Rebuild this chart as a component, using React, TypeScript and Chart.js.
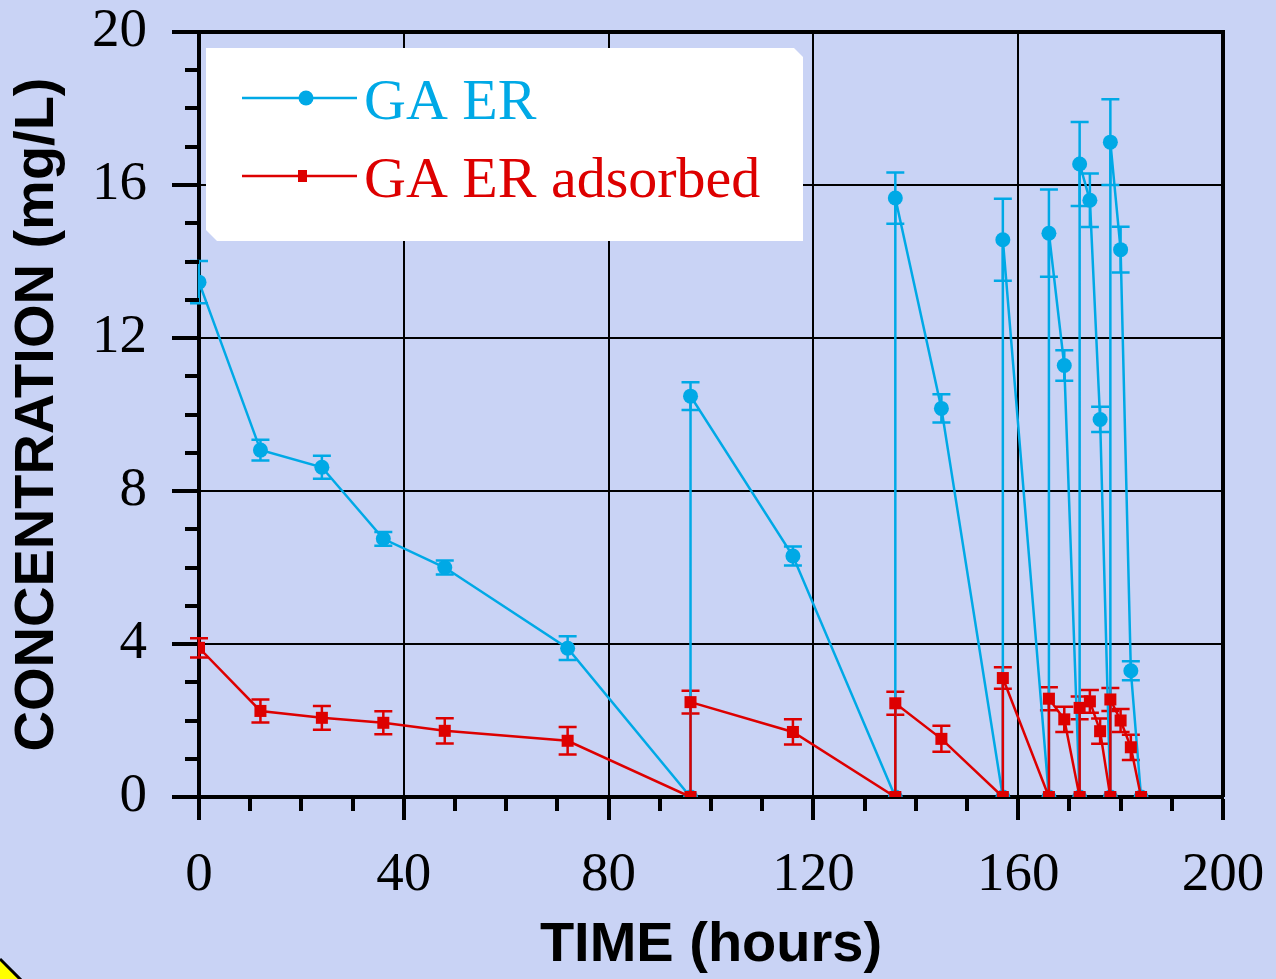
import React, { useEffect, useRef } from "react";
import { Chart, registerables } from "chart.js";

Chart.register(...registerables);

// ---------- data ----------
const seriesNames = ["GA ER", "GA ER adsorbed"];
const timeHours = [0, 12, 24, 36, 48, 72, 96, 96, 116, 136, 136, 145, 157, 157, 166, 166, 169, 172, 172, 174, 176, 178, 178, 180, 182, 184];
const gaErConc = [13.46, 9.07, 8.62, 6.75, 6.0, 3.89, 0, 10.48, 6.3, 0, 15.66, 10.16, 0, 14.57, 0, 14.74, 11.28, 0, 16.55, 15.6, 9.87, 0, 17.12, 14.31, 3.3, 0];
const gaErErr = [0.55, 0.27, 0.3, 0.18, 0.18, 0.31, 0, 0.36, 0.25, 0, 0.67, 0.37, 0, 1.07, 0, 1.14, 0.4, 0, 1.1, 0.7, 0.33, 0, 1.12, 0.6, 0.25, 0];
const adsConc = [3.9, 2.25, 2.07, 1.94, 1.73, 1.47, 0, 2.48, 1.7, 0, 2.45, 1.52, 0, 3.11, 0, 2.57, 2.03, 0, 2.33, 2.5, 1.72, 0, 2.55, 2.0, 1.3, 0];
const adsErr = [0.25, 0.3, 0.31, 0.3, 0.33, 0.36, 0, 0.3, 0.33, 0, 0.3, 0.34, 0, 0.28, 0, 0.3, 0.33, 0, 0.3, 0.3, 0.33, 0, 0.3, 0.3, 0.33, 0];
const xRange = [0, 200];
const yRange = [0, 20];
const xMajorStep = 40;
const yMajorStep = 4;
const xMinorStep = 10;
const yMinorStep = 1;
const xTitle = "TIME (hours)";
const yTitle = "CONCENTRATION (mg/L)";

// ---------- styles ----------
const BLUE = "#00a9e6";
const RED = "#dd0000";
const BG = "#c9d3f5";
const SERIF = "'Liberation Serif', 'Times New Roman', serif";
const SANS = "'Liberation Sans', Arial, sans-serif";

const errorBarPlugin = {
  id: "errorBars",
  beforeDatasetsDraw(chart: any) {
    const { ctx } = chart;
    const x = chart.scales.x;
    const y = chart.scales.y;
    const sets = [...chart.data.datasets].sort((a: any, b: any) => b.order - a.order);
    ctx.save();
    sets.forEach((d: any) => {
      ctx.strokeStyle = d.borderColor;
      ctx.lineWidth = 2.5;
      d.data.forEach((p: any, k: number) => {
        const e = d.errors[k];
        if (!e) return;
        const px = x.getPixelForValue(p.x);
        const pt = y.getPixelForValue(p.y + e);
        const pb = y.getPixelForValue(p.y - e);
        ctx.beginPath();
        ctx.moveTo(px, pt);
        ctx.lineTo(px, pb);
        ctx.moveTo(px - 9, pt);
        ctx.lineTo(px + 9, pt);
        ctx.moveTo(px - 9, pb);
        ctx.lineTo(px + 9, pb);
        ctx.stroke();
      });
    });
    ctx.restore();
  },
};

const framePlugin = {
  id: "frame",
  afterDraw(chart: any) {
    const { ctx, chartArea } = chart;
    const { left, right, top, bottom } = chartArea;
    const x = chart.scales.x;
    const y = chart.scales.y;
    ctx.save();
    ctx.strokeStyle = "#000";
    ctx.lineWidth = 4;
    ctx.lineCap = "butt";
    ctx.beginPath();
    for (let v = xRange[0]; v <= xRange[1]; v += xMinorStep) {
      if (v % xMajorStep === 0) continue;
      const px = Math.round(x.getPixelForValue(v));
      ctx.moveTo(px, bottom);
      ctx.lineTo(px, bottom + 14);
    }
    for (let v = yRange[0]; v <= yRange[1]; v += yMinorStep) {
      if (v % yMajorStep === 0) continue;
      const py = Math.round(y.getPixelForValue(v));
      ctx.moveTo(left - 14, py);
      ctx.lineTo(left, py);
    }
    // top and right frame
    ctx.moveTo(left - 2, top);
    ctx.lineTo(right + 2, top);
    ctx.moveTo(right, top);
    ctx.lineTo(right, bottom);
    ctx.stroke();

    // legend box
    ctx.fillStyle = "#ffffff";
    ctx.beginPath();
    ctx.moveTo(206, 48);
    ctx.lineTo(794, 48);
    ctx.lineTo(803, 57);
    ctx.lineTo(803, 241);
    ctx.lineTo(217, 241);
    ctx.lineTo(206, 230);
    ctx.closePath();
    ctx.fill();

    ctx.lineWidth = 2.5;
    ctx.strokeStyle = BLUE;
    ctx.beginPath();
    ctx.moveTo(242, 98);
    ctx.lineTo(357, 98);
    ctx.stroke();
    ctx.fillStyle = BLUE;
    ctx.beginPath();
    ctx.arc(306, 98, 7.5, 0, Math.PI * 2);
    ctx.fill();
    ctx.strokeStyle = RED;
    ctx.beginPath();
    ctx.moveTo(242, 176);
    ctx.lineTo(357, 176);
    ctx.stroke();
    ctx.fillStyle = RED;
    ctx.fillRect(298, 170, 9, 12);

    ctx.font = `58px ${SERIF}`;
    ctx.textBaseline = "alphabetic";
    ctx.textAlign = "left";
    ctx.fillStyle = BLUE;
    ctx.fillText(seriesNames[0], 364, 119);
    ctx.fillStyle = RED;
    ctx.fillText(seriesNames[1], 364, 197);

    // yellow corner shape
    ctx.fillStyle = "#ffff00";
    ctx.strokeStyle = "#000";
    ctx.lineWidth = 3;
    ctx.beginPath();
    ctx.moveTo(0, 959);
    ctx.lineTo(22, 981);
    ctx.lineTo(0, 981);
    ctx.closePath();
    ctx.fill();
    ctx.beginPath();
    ctx.moveTo(0, 959);
    ctx.lineTo(22, 981);
    ctx.stroke();
    ctx.restore();
  },
};

export default function App() {
  const ref = useRef<HTMLCanvasElement | null>(null);

  useEffect(() => {
    if (!ref.current) return;
    const chart = new Chart(ref.current, {
      type: "line",
      data: {
        datasets: [
          {
            label: seriesNames[1],
            data: timeHours.map((t, i) => ({ x: t, y: adsConc[i] })),
            borderColor: RED,
            backgroundColor: RED,
            borderWidth: 2.5,
            pointStyle: "rect",
            pointRadius: 8.5,
            pointBorderWidth: 0,
            tension: 0,
            order: 0,
            errors: adsErr,
          } as any,
          {
            label: seriesNames[0],
            data: timeHours.map((t, i) => ({ x: t, y: gaErConc[i] })),
            borderColor: BLUE,
            backgroundColor: BLUE,
            borderWidth: 2.5,
            pointStyle: "circle",
            pointRadius: 7.5,
            pointBorderWidth: 0,
            tension: 0,
            order: 1,
            errors: gaErErr,
          } as any,
        ],
      },
      options: {
        animation: false,
        responsive: false,
        events: [],
        layout: { padding: { top: 32, right: 53, bottom: 0, left: 0 } },
        plugins: { legend: { display: false }, tooltip: { enabled: false } },
        scales: {
          x: {
            type: "linear",
            min: xRange[0],
            max: xRange[1],
            ticks: {
              stepSize: xMajorStep,
              autoSkip: false,
              maxRotation: 0,
              color: "#000",
              padding: 28,
              font: { family: SERIF, size: 55, lineHeight: 1 },
            },
            grid: { color: "#000", lineWidth: 2, drawTicks: true, tickLength: 23, tickWidth: 4, tickColor: "#000" },
            border: { display: true, color: "#000", width: 4 },
            title: {
              display: true,
              text: xTitle,
              color: "#000",
              padding: 0,
              font: { family: SANS, size: 56, weight: "bold", lineHeight: 1.2 },
            },
            afterFit: (s: any) => {
              s.height = 182;
              s.paddingLeft = 0;
              s.paddingRight = 0;
            },
          },
          y: {
            type: "linear",
            min: yRange[0],
            max: yRange[1],
            ticks: {
              stepSize: yMajorStep,
              color: "#000",
              padding: 25,
              font: { family: SERIF, size: 55, lineHeight: 1 },
            },
            grid: { color: "#000", lineWidth: 2, drawTicks: true, tickLength: 27, tickWidth: 4, tickColor: "#000" },
            border: { display: true, color: "#000", width: 4 },
            title: {
              display: true,
              text: yTitle,
              color: "#000",
              padding: { top: 4, bottom: 0 },
              font: { family: SANS, size: 56, weight: "bold", lineHeight: 1.2 },
            },
            afterFit: (s: any) => {
              s.width = 199;
              s.paddingTop = 0;
              s.paddingBottom = 0;
            },
          },
        },
      } as any,
      plugins: [errorBarPlugin, framePlugin],
    });
    return () => chart.destroy();
  }, []);

  return (
    <div style={{ position: "fixed", left: 0, top: 0, width: 1276, height: 979, background: BG, overflow: "hidden" }}>
      <canvas ref={ref} width={1276} height={979} style={{ display: "block", width: 1276, height: 979 }} />
    </div>
  );
}
